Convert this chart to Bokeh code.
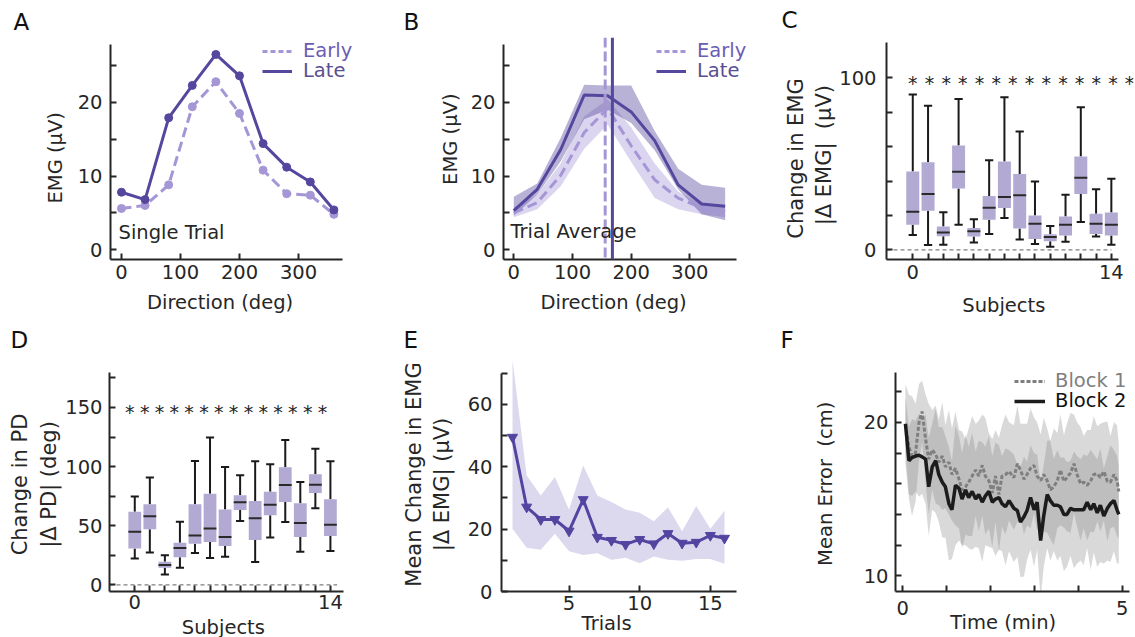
import numpy as np
from bokeh.plotting import figure
from bokeh.layouts import column, row
from bokeh.models import (FixedTicker, Label, LabelSet, ColumnDataSource, Legend,
                          LegendItem, Span, Range1d, Title)
from bokeh.transform import dodge
from bokeh.embed import file_html
from bokeh.resources import INLINE
from bokeh.core.properties import value

# ---------------- data ----------------
directions = [0, 40, 80, 120, 160, 200, 240, 280, 320, 360]
a_early = [5.6, 6.0, 8.8, 19.4, 22.8, 18.5, 10.8, 7.6, 7.4, 4.8]
a_late = [7.8, 6.8, 17.9, 22.3, 26.5, 23.6, 14.4, 11.2, 9.2, 5.4]

b_early = [5.0, 6.4, 10.1, 15.9, 19.2, 14.1, 9.5, 7.0, 5.7, 5.2]
b_early_lo = [4.4, 5.5, 8.6, 13.7, 17.0, 11.9, 7.0, 5.5, 4.8, 4.4]
b_early_hi = [5.7, 7.5, 11.7, 18.1, 20.4, 16.6, 11.7, 7.9, 6.1, 5.9]
b_late = [5.3, 8.2, 13.6, 21.0, 20.9, 18.7, 14.8, 8.8, 6.2, 5.9]
b_late_lo = [4.6, 7.5, 12.0, 17.7, 19.0, 17.2, 13.5, 8.2, 4.8, 4.0]
b_late_hi = [7.2, 9.0, 15.2, 22.4, 22.3, 22.3, 16.1, 11.0, 8.8, 8.4]
b_pd_early = 155.7
b_pd_late = 168.0

subjects = list(range(14))
c_med = [22.2, 32.5, 10.1, 45.4, 10.8, 24.5, 30.8, 31.7, 15.2, 7.6, 14.6, 42.0, 15.2, 14.6]
c_q1 = [14.6, 22.8, 8.0, 35.7, 7.8, 17.5, 24.3, 12.5, 6.3, 5.1, 8.4, 32.5, 9.3, 8.4]
c_q3 = [45.6, 51.0, 13.7, 60.6, 12.7, 31.4, 51.3, 44.1, 20.0, 9.1, 19.4, 54.2, 21.1, 21.7]
c_lo = [8.7, 2.9, 3.0, 14.6, 4.4, 9.3, 18.6, 6.1, 3.4, 1.9, 4.8, 16.2, 7.8, 3.0]
c_hi = [90.3, 83.8, 21.9, 87.6, 17.9, 52.1, 88.6, 68.8, 39.7, 13.9, 32.1, 82.9, 35.2, 41.4]

d_med = [44.9, 57.9, 16.7, 31.1, 41.8, 47.7, 40.4, 69.8, 56.2, 67.8, 84.5, 52.3, 84.7, 50.8]
d_q1 = [30.8, 46.9, 14.4, 23.4, 34.7, 36.2, 32.8, 63.3, 37.9, 58.8, 70.1, 40.4, 77.7, 41.2]
d_q3 = [61.9, 68.1, 19.5, 35.6, 68.1, 77.1, 63.6, 75.7, 70.9, 78.8, 99.4, 68.9, 93.5, 72.3]
d_lo = [22.3, 27.4, 8.8, 14.4, 26.8, 22.6, 23.7, 54.0, 19.2, 40.1, 53.1, 28.0, 64.7, 28.5]
d_hi = [74.6, 90.7, 24.9, 53.4, 104.8, 124.6, 99.7, 92.7, 104.5, 102.0, 122.6, 87.0, 115.0, 104.5]

trials = list(range(1, 17))
e_mean = [49.5, 27.1, 23.1, 23.1, 19.4, 29.5, 17.4, 16.4, 15.1, 16.7, 15.3, 18.6, 15.5, 15.8, 18.0, 17.1]
e_lo = [20.1, 14.0, 13.4, 18.5, 12.9, 11.7, 12.3, 10.2, 10.8, 9.1, 11.2, 10.2, 9.9, 10.4, 10.4, 8.9]
e_hi = [74.3, 37.2, 30.8, 36.7, 26.2, 40.4, 30.8, 28.7, 26.3, 25.3, 22.5, 27.0, 19.3, 27.4, 20.1, 25.9]

f_time = [0.06, 0.14, 0.21, 0.29, 0.37, 0.44, 0.52, 0.59, 0.67, 0.75,
          0.82, 0.90, 0.97, 1.05, 1.12, 1.20, 1.28, 1.35, 1.43, 1.50,
          1.58, 1.66, 1.73, 1.81, 1.88, 1.96, 2.04, 2.11, 2.19, 2.26,
          2.34, 2.42, 2.53, 2.61, 2.68, 2.76, 2.83, 2.91, 2.99, 3.06,
          3.14, 3.21, 3.29, 3.36, 3.44, 3.52, 3.59, 3.67, 3.74, 3.82,
          3.90, 3.97, 4.05, 4.12, 4.20, 4.28, 4.35, 4.43, 4.50, 4.58,
          4.66, 4.73, 4.81, 4.88, 4.92]
f_block1 = [19.9, 18.4, 17.8, 18.0, 20.0, 20.7, 18.9, 17.6, 18.2, 17.9,
            17.4, 17.8, 17.1, 17.4, 16.6, 17.0, 16.3, 15.6, 15.8, 16.1,
            16.5, 16.9, 16.5, 17.2, 16.5, 16.2, 15.4, 16.5, 15.3, 16.5,
            16.6, 16.8, 16.4, 17.3, 16.9, 16.3, 16.6, 17.0, 17.2, 16.5,
            16.2, 16.6, 16.2, 15.6, 15.8, 16.2, 16.9, 16.15, 16.4, 16.7,
            17.3, 16.6, 16.0, 16.1, 15.9, 16.2, 16.6, 16.65, 16.4, 16.8,
            16.15, 16.1, 16.6, 16.2, 15.5]
f_block2 = [19.9, 17.5, 17.7, 17.8, 17.85, 17.75, 17.6, 15.8, 17.1, 17.5,
            16.6, 16.1, 15.8, 14.7, 14.3, 15.9, 15.7, 15.0, 15.6, 15.1,
            15.5, 15.0, 15.3, 14.8, 15.2, 15.5, 14.8, 15.0, 15.1, 14.7,
            14.5, 14.9, 14.4, 14.25, 13.5, 13.85, 14.25, 15.1, 14.3, 14.8,
            12.3, 13.9, 15.3, 14.9, 14.6, 14.6, 14.5, 14.0, 14.0, 14.4,
            14.3, 14.3, 14.3, 14.3, 14.8, 14.3, 14.7, 14.1, 14.6, 13.9,
            14.4, 14.7, 14.9, 14.3, 14.0]
f_sd1 = [2.6, 3.4, 3.9, 3.2, 2.5, 2.0, 2.9, 3.6, 2.6, 3.2, 2.8, 3.5, 2.7,
         3.4, 3.0, 3.7, 3.2, 3.8, 3.1, 3.5, 3.9, 3.0, 3.6,
         3.3, 3.8, 3.1, 3.5, 3.0, 3.7, 3.3, 3.9, 3.2, 3.4,
         3.8, 3.0, 3.6, 3.3, 3.9, 3.1, 3.5, 3.0, 3.7, 3.4,
         3.2, 3.8, 3.1, 3.6, 3.0, 3.5, 3.9, 3.2, 3.4, 3.7,
         3.0, 3.6, 3.3, 3.8, 3.1, 3.5, 3.2, 3.9, 3.0, 3.4,
         3.6, 3.1]
f_sd2 = [1.8, 2.2, 2.5, 2.3, 2.7, 2.4, 2.9, 3.2, 2.8, 3.4, 3.1, 3.6, 3.3,
         3.7, 3.2, 3.9, 3.4, 3.0, 3.6, 3.3, 3.8, 3.1, 3.5,
         3.9, 3.2, 3.6, 3.0, 3.7, 3.4, 3.1, 3.8, 3.3, 3.5,
         3.0, 3.6, 3.9, 3.2, 3.4, 3.7, 3.1, 3.8, 3.3, 3.5,
         3.9, 3.0, 3.6, 3.2, 3.7, 3.4, 3.1, 3.8, 3.5, 3.3,
         3.6, 3.0, 3.9, 3.2, 3.5, 3.7, 3.1, 3.4, 3.8, 3.3,
         3.5, 3.2]

# ---------------- style ----------------
FONT = "DejaVu Sans"
TXT = "#262626"
DARK = "#55479e"
LIGHT = "#a596d6"
BOXC = "#b3aad3"
TICK_FS = "19.5px"
LAB_FS = "19.5px"
NB = "\u00a0"
OFF = [-1e4, -9999]  # legend proxy data lying outside every visible range


def base(w, h, xr, yr, ml, mr, mt, mb, xt, yt, xover, yover, xstand=5, ystand=8):
    p = figure(width=w, height=h, x_range=Range1d(*xr), y_range=Range1d(*yr),
               output_backend="svg", toolbar_location=None,
               min_border_left=ml, min_border_right=mr,
               min_border_top=mt, min_border_bottom=mb)
    p.xgrid.visible = False
    p.ygrid.visible = False
    p.outline_line_color = None
    p.background_fill_color = "white"
    p.border_fill_color = "white"
    p.xaxis.ticker = FixedTicker(ticks=xt)
    p.yaxis.ticker = FixedTicker(ticks=yt)
    p.xaxis.major_label_overrides = xover
    p.yaxis.major_label_overrides = yover
    for ax in [p.xaxis[0], p.yaxis[0]]:
        ax.axis_line_width = 2
        ax.axis_line_color = TXT
        ax.major_tick_in = 6
        ax.major_tick_out = 0
        ax.major_tick_line_width = 2
        ax.major_tick_line_color = TXT
        ax.minor_tick_line_color = None
        ax.major_label_text_font = FONT
        ax.major_label_text_font_size = TICK_FS
        ax.major_label_text_color = TXT
        ax.axis_label_text_font = FONT
        ax.axis_label_text_font_style = "normal"
        ax.axis_label_text_color = TXT
        ax.axis_label_text_font_size = LAB_FS
    p.xaxis.major_label_standoff = xstand
    p.yaxis.major_label_standoff = ystand
    return p


def axlabels(p, xlabel, xs, ylabel, ys, ysize=LAB_FS, lh=1.2):
    p.xaxis.axis_label = xlabel
    p.xaxis.axis_label_standoff = xs
    p.yaxis.axis_label = ylabel
    p.yaxis.axis_label_standoff = ys
    p.yaxis.axis_label_text_font_size = ysize
    p.yaxis.axis_label_text_line_height = lh


def letter(p, text, offset, standoff):
    p.add_layout(Title(text=text, align="left", offset=offset, standoff=standoff,
                       text_font=FONT, text_font_size="23px", text_font_style="normal",
                       text_color="#111111", vertical_align="bottom",
                       text_baseline="alphabetic"), "above")


def lab(p, text, x, y, size=LAB_FS, align="left", color=TXT):
    p.add_layout(Label(x=x, y=y, x_units="screen", y_units="screen", text=text,
                       text_align=align, text_baseline="middle",
                       text_font=FONT, text_font_size=size, text_color=color))


def leg(p, r, text, color, vx, vy, gw=30, standoff=11):
    L = Legend(items=[LegendItem(label=text, renderers=[r])], location=(vx, vy),
               border_line_color=None, background_fill_alpha=0, padding=0,
               spacing=0, margin=0, glyph_width=gw, glyph_height=20,
               label_height=20, label_standoff=standoff,
               label_text_font=FONT, label_text_font_size=LAB_FS,
               label_text_color=color, label_text_baseline="middle")
    p.add_layout(L)


def labels_only(ticks, keep):
    return {t: (str(keep[t]) if t in keep else "") for t in ticks}


H1 = 319   # first row canvas height
H2 = 349   # second row canvas height (bottom part clipped by the column)

# ---------------- A ----------------
ya_t = [0, 5, 10, 15, 20, 25]
pA = base(395, H1, (-18.6, 394.9), (-1.33, 28.8), 110, 41, 37, 56,
          [0, 100, 200, 300], ya_t, {}, labels_only(ya_t, {0: 0, 10: 10, 20: 20}))
pA.yaxis.bounds = (-1.33, 27.87)
pA.xaxis.bounds = (-18.6, 374.6)
pA.line(directions, a_early, color=LIGHT, line_width=3, line_dash="10 5")
pA.scatter(directions, a_early, size=8, color=LIGHT)
ra_late = pA.line(directions, a_late, color=DARK, line_width=3)
pA.scatter(directions, a_late, size=8, color=DARK)
ea_proxy = pA.line(OFF, [0, 0], color=LIGHT, line_width=3, line_dash="5 3")
leg(pA, ea_proxy, "Early", "#6b5cb5", 152, 197)
leg(pA, ra_late, "Late", "#594e91", 152, 177)
letter(pA, "A", -97, 6)
axlabels(pA, "Direction (deg)" + NB * 4, 9, "EMG (μV)" + NB * 3, 8)
lab(pA, "Single Trial", 8, 27)

# ---------------- B ----------------
pB = base(380, H1, (-17.5, 399.8), (-1.33, 28.8), 108, 27, 37, 56,
          [0, 100, 200, 300], ya_t, {}, labels_only(ya_t, {0: 0, 10: 10, 20: 20}))
pB.yaxis.bounds = (-1.33, 27.87)
pB.xaxis.bounds = (-17.5, 379.4)
pB.varea(directions, b_early_lo, b_early_hi, fill_color=LIGHT, fill_alpha=0.4)
pB.varea(directions, b_late_lo, b_late_hi, fill_color=DARK, fill_alpha=0.42)
pB.line(directions, b_early, color=LIGHT, line_width=3, line_dash="10 5")
rb_late = pB.line(directions, b_late, color=DARK, line_width=3)
pB.add_layout(Span(location=b_pd_early, dimension="height", line_color=LIGHT,
                   line_width=3, line_dash="10 4"))
pB.add_layout(Span(location=b_pd_late, dimension="height", line_color=DARK, line_width=3))
eb_proxy = pB.line(OFF, [0, 0], color=LIGHT, line_width=3, line_dash="5 3")
leg(pB, eb_proxy, "Early", "#6b5cb5", 153, 197)
leg(pB, rb_late, "Late", "#594e91", 153, 177)
letter(pB, "B", -100, 6)
axlabels(pB, "Direction (deg)" + NB * 4, 9, NB * 3 + "EMG (μV)", 6)
lab(pB, "Trial Average", 7, 28)


# ---------------- box helper ----------------
def boxes(p, med, q1, q3, lo, hi):
    src = ColumnDataSource(dict(x=subjects, med=med, q1=q1, q3=q3, lo=lo, hi=hi))
    p.segment(x0="x", x1="x", y0="lo", y1="q1", source=src, line_color="#1a1a1a", line_width=2)
    p.segment(x0="x", x1="x", y0="q3", y1="hi", source=src, line_color="#1a1a1a", line_width=2)
    p.segment(x0=dodge("x", -0.27), x1=dodge("x", 0.27), y0="lo", y1="lo", source=src,
              line_color="#1a1a1a", line_width=2)
    p.segment(x0=dodge("x", -0.27), x1=dodge("x", 0.27), y0="hi", y1="hi", source=src,
              line_color="#1a1a1a", line_width=2)
    p.vbar(x="x", width=0.85, bottom="q1", top="q3", source=src, fill_color=BOXC,
           line_color=None)
    p.segment(x0=dodge("x", -0.425), x1=dodge("x", 0.425), y0="med", y1="med", source=src,
              line_color="#2a2a2a", line_width=2)


def stars(p, xs, y):
    s = ColumnDataSource(dict(x=xs, y=[y] * len(xs), t=["*"] * len(xs)))
    p.add_layout(LabelSet(x="x", y="y", text="t", source=s, text_align="center",
                          text_baseline="middle", text_font=value(FONT),
                          text_font_size=value("19px"), text_color=TXT))


sub_over = labels_only(subjects, {0: 0, 13: 14})

# ---------------- C ----------------
yc_t = [0, 20, 40, 60, 80, 100]
pC = base(360, H1, (-1.72, 14.45), (-5.53, 123.35), 111, 2, 37, 56,
          subjects, yc_t, sub_over, labels_only(yc_t, {0: 0, 100: 100}), xstand=5, ystand=10)
pC.xaxis.bounds = (-1.72, 13.47)
pC.yaxis.bounds = (-5.53, 120.5)
pC.segment(x0=[-1.72], x1=[13.0], y0=[0], y1=[0], line_color="#808080",
           line_width=1.2, line_dash="4 3")
boxes(pC, c_med, c_q1, c_q3, c_lo, c_hi)
stars(pC, [i * 1.092 for i in range(14)], 97)
letter(pC, "C", -105, 9)
axlabels(pC, "Subjects" + NB * 2, 12,
         "Change in EMG" + NB * 3 + "\n" + "|Δ EMG|" + NB + " (μV)" + NB * 2, 0,
         ysize="21px", lh=1.17)

# ---------------- D ----------------
yd_t = [0, 25, 50, 75, 100, 125, 150, 175]
pD = base(395, H2, (-1.68, 13.87), (-5.67, 192.3), 109, 52, 38, 77,
          subjects, yd_t, sub_over, labels_only(yd_t, {0: 0, 50: 50, 100: 100, 150: 150}),
          xstand=3, ystand=7)
pD.yaxis.bounds = (-5.67, 179.6)
pD.segment(x0=[-1.68], x1=[13.45], y0=[0], y1=[0], line_color="#808080",
           line_width=1.2, line_dash="4 3")
boxes(pD, d_med, d_q1, d_q3, d_lo, d_hi)
stars(pD, [-0.33 + i * 0.985 for i in range(14)], 145.8)
letter(pD, "D", -99, 10)
axlabels(pD, "Subjects" + NB, 4,
         "Change in PD" + NB * 3 + "\n" + "|Δ PD| (deg)" + NB * 3, 1, ysize="21px", lh=1.21)

# ---------------- E ----------------
ye_t = [0, 10, 20, 30, 40, 50, 60, 70]
pE = base(380, H2, (0.22, 16.85), (0, 75.07), 106, 39, 38, 77,
          [5, 10, 15], ye_t, {}, labels_only(ye_t, {0: 0, 20: 20, 40: 40, 60: 60}),
          xstand=4, ystand=9)
pE.yaxis.bounds = (0, 70)
pE.varea(trials, e_lo, e_hi, fill_color="#dcd8ed", fill_alpha=1.0)
pE.line(trials, e_mean, color="#5244a0", line_width=3)
pE.scatter(trials, e_mean, marker="inverted_triangle", size=10, color="#5244a0")
letter(pE, "E", -98, 10)
axlabels(pE, "Trials" + NB * 4, -1,
         "Mean Change in EMG" + "\n" + "|Δ EMG| (μV)" + NB * 3, 11, ysize="21px", lh=1.15)

# ---------------- F ----------------
yf_t = [10, 12, 14, 16, 18, 20, 22]
xf_t = [0, 1, 2, 3, 4, 5]
pF = base(360, H2, (-0.166, 5.164), (8.98, 24.22), 120, 6, 38, 77,
          xf_t, yf_t, labels_only(xf_t, {0: 0, 5: 5}), labels_only(yf_t, {10: 10, 20: 20}),
          xstand=9, ystand=7)
pF.yaxis.bounds = (8.98, 23.24)
b1_lo = [m - s for m, s in zip(f_block1, f_sd1)]
b1_hi = [m + s for m, s in zip(f_block1, f_sd1)]
b2_lo = [m - s for m, s in zip(f_block2, f_sd2)]
b2_hi = [m + s for m, s in zip(f_block2, f_sd2)]
pF.varea(f_time, b1_lo, b1_hi, fill_color="#808080", fill_alpha=0.3)
pF.varea(f_time, b2_lo, b2_hi, fill_color="#808080", fill_alpha=0.3)
r1 = pF.line(f_time, f_block1, color="#7f7f7f", line_width=3, line_dash="4 2")
r2 = pF.line(f_time, f_block2, color="#1c1c1c", line_width=3.5)
leg(pF, r1, "Block 1", "#808080", 119, 199, gw=31, standoff=10)
leg(pF, r2, "Block 2", "#111111", 119, 179, gw=31, standoff=10)
letter(pF, "F", -115, 10)
axlabels(pF, "Time (min)" + NB * 3, -7, "Mean Error" + NB + " (cm)" + NB * 3, 24)

layout = column(row(pA, pB, pC), row(pD, pE, pF), width=1135, height=637,
                sizing_mode="fixed", styles={"overflow": "hidden"})
open("out.html", "w").write(file_html(layout, INLINE))
